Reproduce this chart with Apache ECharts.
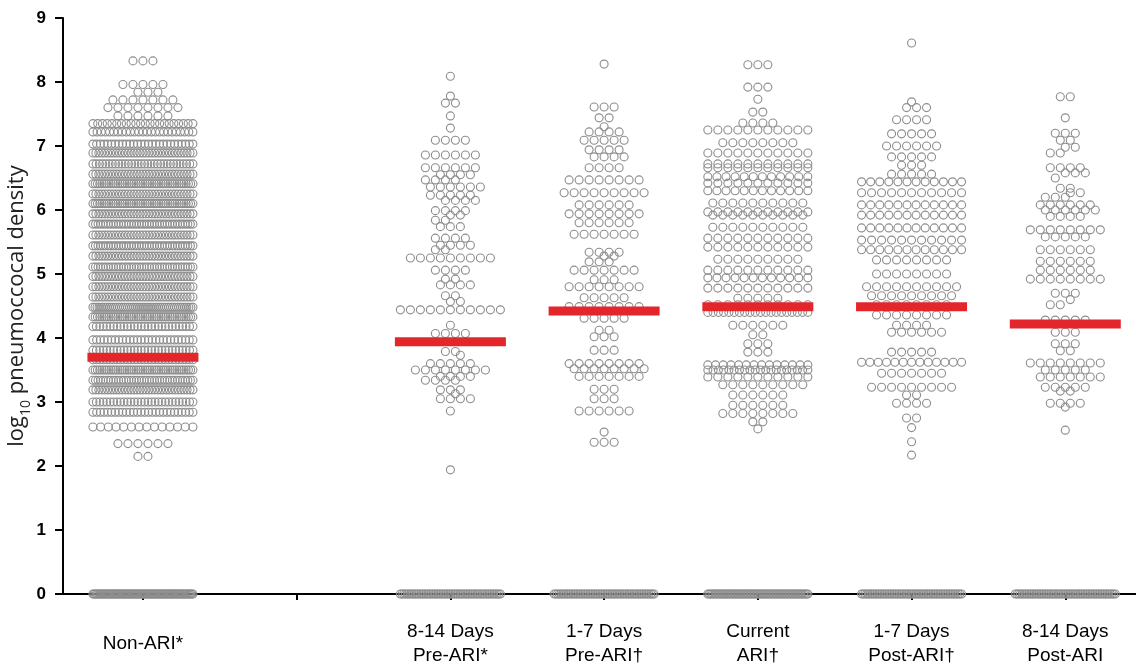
<!DOCTYPE html>
<html><head><meta charset="utf-8">
<script src="https://cdn.jsdelivr.net/npm/echarts@6/dist/echarts.min.js"></script>
<style>html,body{margin:0;padding:0;background:#fff}#c{width:1136px;height:666px}</style>
</head><body><div id="c"></div>
<script>
// Category labels (x positions 0..6; position 1 is an empty spacer)
const categories = ['Non-ARI*', '', '8-14 Days\nPre-ARI*', '1-7 Days\nPre-ARI\u2020', 'Current\nARI\u2020', '1-7 Days\nPost-ARI\u2020', '8-14 Days\nPost-ARI'];
const yTicks = [0,1,2,3,4,5,6,7,8,9];
// Medians (red bars)
const medianPos = [0, 2, 3, 4, 5, 6];
const medianVals = [3.70, 3.94, 4.42, 4.49, 4.49, 4.22];

// Values (log10 density) and number of samples at each value, per group
const nonAriVals   = [8.33,7.96,7.84,7.72,7.60,7.47,7.35,7.22,7.03,6.89,6.72,6.56,6.41,6.25,6.10,5.94,5.78,5.61,5.44,5.28,5.11,4.96,4.80,4.64,4.48,4.33,4.18,3.97,3.81,3.66,3.50,3.34,3.19,3.00,2.84,2.61,2.35,2.15,0];
const nonAriCounts = [3,5,3,7,8,6,22,25,28,35,32,35,45,35,45,35,40,35,40,35,40,35,35,35,50,45,30,28,30,30,45,40,35,30,28,14,6,2,90];

const pre814Vals   = [8.09,7.78,7.67,7.47,7.28,7.09,6.86,6.66,6.55,6.47,6.36,6.23,6.15,5.99,5.92,5.84,5.74,5.56,5.45,5.38,5.25,5.06,4.92,4.83,4.66,4.57,4.44,4.20,4.07,3.79,3.73,3.60,3.50,3.40,3.34,3.19,3.13,3.05,2.86,1.94,0];
const pre814Counts = [1,1,2,1,1,4,6,6,4,4,6,5,4,4,2,2,3,4,4,2,9,4,2,4,2,2,11,1,4,2,1,5,8,4,4,3,1,4,1,1,60];

const pre17Vals    = [8.28,7.61,7.44,7.30,7.22,7.09,6.94,6.83,6.66,6.47,6.27,6.08,5.94,5.80,5.62,5.34,5.28,5.19,5.06,4.91,4.80,4.63,4.49,4.31,4.12,4.02,3.81,3.60,3.52,3.40,3.20,3.05,2.86,2.53,2.37,0];
const pre17Counts  = [1,3,2,1,4,5,4,4,4,8,9,6,8,6,7,4,2,3,7,3,8,5,8,5,2,3,3,8,8,7,3,3,6,1,3,60];

const currentVals   = [8.27,7.92,7.73,7.53,7.36,7.25,7.05,6.89,6.72,6.66,6.52,6.42,6.30,6.11,5.97,5.92,5.73,5.56,5.42,5.23,5.06,4.94,4.78,4.62,4.52,4.40,4.20,4.05,3.91,3.78,3.58,3.50,3.39,3.27,3.11,2.95,2.82,2.69,2.58,0];
const currentCounts = [3,3,1,2,4,11,8,11,11,11,12,11,12,10,11,10,10,11,11,9,11,12,11,5,11,20,6,2,3,3,14,20,11,9,6,6,8,2,1,70];

const post17Vals   = [8.61,7.69,7.60,7.41,7.19,7.00,6.83,6.70,6.56,6.44,6.27,6.08,5.92,5.72,5.53,5.38,5.22,5.00,4.80,4.66,4.52,4.36,4.20,4.09,3.78,3.62,3.45,3.23,3.11,2.98,2.75,2.60,2.38,2.17,0];
const post17Counts = [1,1,3,4,5,6,5,3,5,12,11,12,12,12,11,12,8,8,10,9,8,8,4,6,5,13,7,9,2,4,2,1,1,1,60];

const post814Vals   = [7.77,7.44,7.20,7.09,6.98,6.89,6.66,6.58,6.50,6.34,6.27,6.20,6.08,6.00,5.90,5.69,5.58,5.38,5.20,5.06,4.92,4.70,4.60,4.52,4.28,4.09,3.91,3.80,3.61,3.50,3.39,3.23,3.17,2.98,2.92,2.56,0];
const post814Counts = [2,1,3,2,2,2,4,3,1,2,2,3,6,6,4,8,5,6,6,6,8,3,1,2,5,3,3,2,8,5,7,5,2,4,1,1,60];

const groups = [
  {x: 0, vals: nonAriVals, counts: nonAriCounts},
  {x: 2, vals: pre814Vals, counts: pre814Counts},
  {x: 3, vals: pre17Vals, counts: pre17Counts},
  {x: 4, vals: currentVals, counts: currentCounts},
  {x: 5, vals: post17Vals, counts: post17Counts},
  {x: 6, vals: post814Vals, counts: post814Counts}
];

const X_MIN = -0.52, X_MAX = 6.46, Y_MIN = 0, Y_MAX = 9;
const GRID = {left: 63, right: 0, top: 18, bottom: 72, outerBoundsMode: 'none', containLabel: false};
const W = 1136, H = 666;
const pxX = (W - GRID.left - GRID.right) / (X_MAX - X_MIN);
const pxY = (H - GRID.top - GRID.bottom) / (Y_MAX - Y_MIN);
const SP = 10, SPAN = 100, D = 8;

function layout(g) {
  const placed = [];
  const out = [];
  const idx = g.vals.map((v, i) => i).sort((a, b) => g.vals[b] - g.vals[a]);
  idx.forEach(i => {
    const v = g.vals[i], n = g.counts[i];
    const s = n > 1 ? Math.min(SP, SPAN / (n - 1)) : 0;
    const base = [];
    for (let k = 0; k < n; k++) base.push((k - (n - 1) / 2) * s);
    let best = 0;
    if ((n - 1) * SP < SPAN) {
      let bestCost = Infinity;
      [0, SP / 2, -SP / 2, SP, -SP].forEach(sh => {
        let cost = Math.abs(sh) * 0.01;
        base.forEach(b => {
          const x = b + sh;
          if (Math.abs(x) > SPAN / 2 + 1) cost += 100;
          placed.forEach(p => {
            const dy = (p.v - v) * pxY;
            if (Math.abs(dy) < D) {
              const d = Math.hypot(p.x - x, dy);
              if (d < D) cost += (D - d);
            }
          });
        });
        if (cost < bestCost) { bestCost = cost; best = sh; }
      });
    }
    base.forEach(b => {
      const x = b + best;
      placed.push({x: x, v: v});
      out.push([g.x + x / pxX, v]);
    });
  });
  return out;
}

const pointData = [];
groups.forEach(g => layout(g).forEach(p => pointData.push(p)));
const medianData = medianPos.map((x, i) => [x, medianVals[i]]);

const chart = echarts.init(document.getElementById('c'), null, {renderer: 'canvas'});
chart.setOption({
  animation: false,
  backgroundColor: '#ffffff',
  grid: GRID,
  xAxis: {
    type: 'value', min: X_MIN, max: X_MAX,
    splitLine: {show: false},
    axisLine: {show: true, onZero: false, lineStyle: {color: '#000', width: 2}},
    axisTick: {show: true, customValues: [0,1,2,3,4,5,6], length: 6, lineStyle: {color: '#000', width: 2}},
    axisLabel: {
      customValues: [0,2,3,4,5,6],
      formatter: v => categories[Math.round(v)],
      color: '#000', fontFamily: 'Liberation Sans, Arial, sans-serif', fontSize: 19,
      lineHeight: 24, margin: 50, verticalAlign: 'middle'
    }
  },
  yAxis: {
    type: 'value', min: Y_MIN, max: Y_MAX, interval: 1,
    splitLine: {show: false},
    axisLine: {show: true, onZero: false, lineStyle: {color: '#000', width: 2}},
    axisTick: {show: true, length: 8, lineStyle: {color: '#000', width: 2}},
    axisLabel: {color: '#000', fontWeight: 'bold', fontSize: 17, fontFamily: 'Liberation Sans, Arial, sans-serif', margin: 17,
      formatter: v => yTicks.indexOf(v) >= 0 ? String(v) : ''},
    name: '{a|log}{s|10}{a| pneumoccocal density}',
    nameLocation: 'middle', nameGap: 35, nameRotate: 90, nameMoveOverlap: false,
    nameTextStyle: {
      rich: {
        a: {fontSize: 22, color: '#222', fontFamily: 'Open Sans, Liberation Sans, sans-serif'},
        s: {fontSize: 14, color: '#222', fontFamily: 'Open Sans, Liberation Sans, sans-serif', verticalAlign: 'bottom', padding: [0,0,-5,0]}
      }
    }
  },
  series: [
    {
      type: 'scatter', data: pointData, symbol: 'circle', symbolSize: 8, z: 3,
      itemStyle: {color: 'rgba(255,255,255,0)', borderColor: '#8d8d8d', borderWidth: 1.1, opacity: 1},
      emphasis: {disabled: true}, large: false
    },
    {
      type: 'scatter', data: medianData, symbol: 'rect', symbolSize: [111, 9], z: 5,
      itemStyle: {color: '#e2262b', opacity: 1}, emphasis: {disabled: true}
    }
  ]
});
</script></body></html>
